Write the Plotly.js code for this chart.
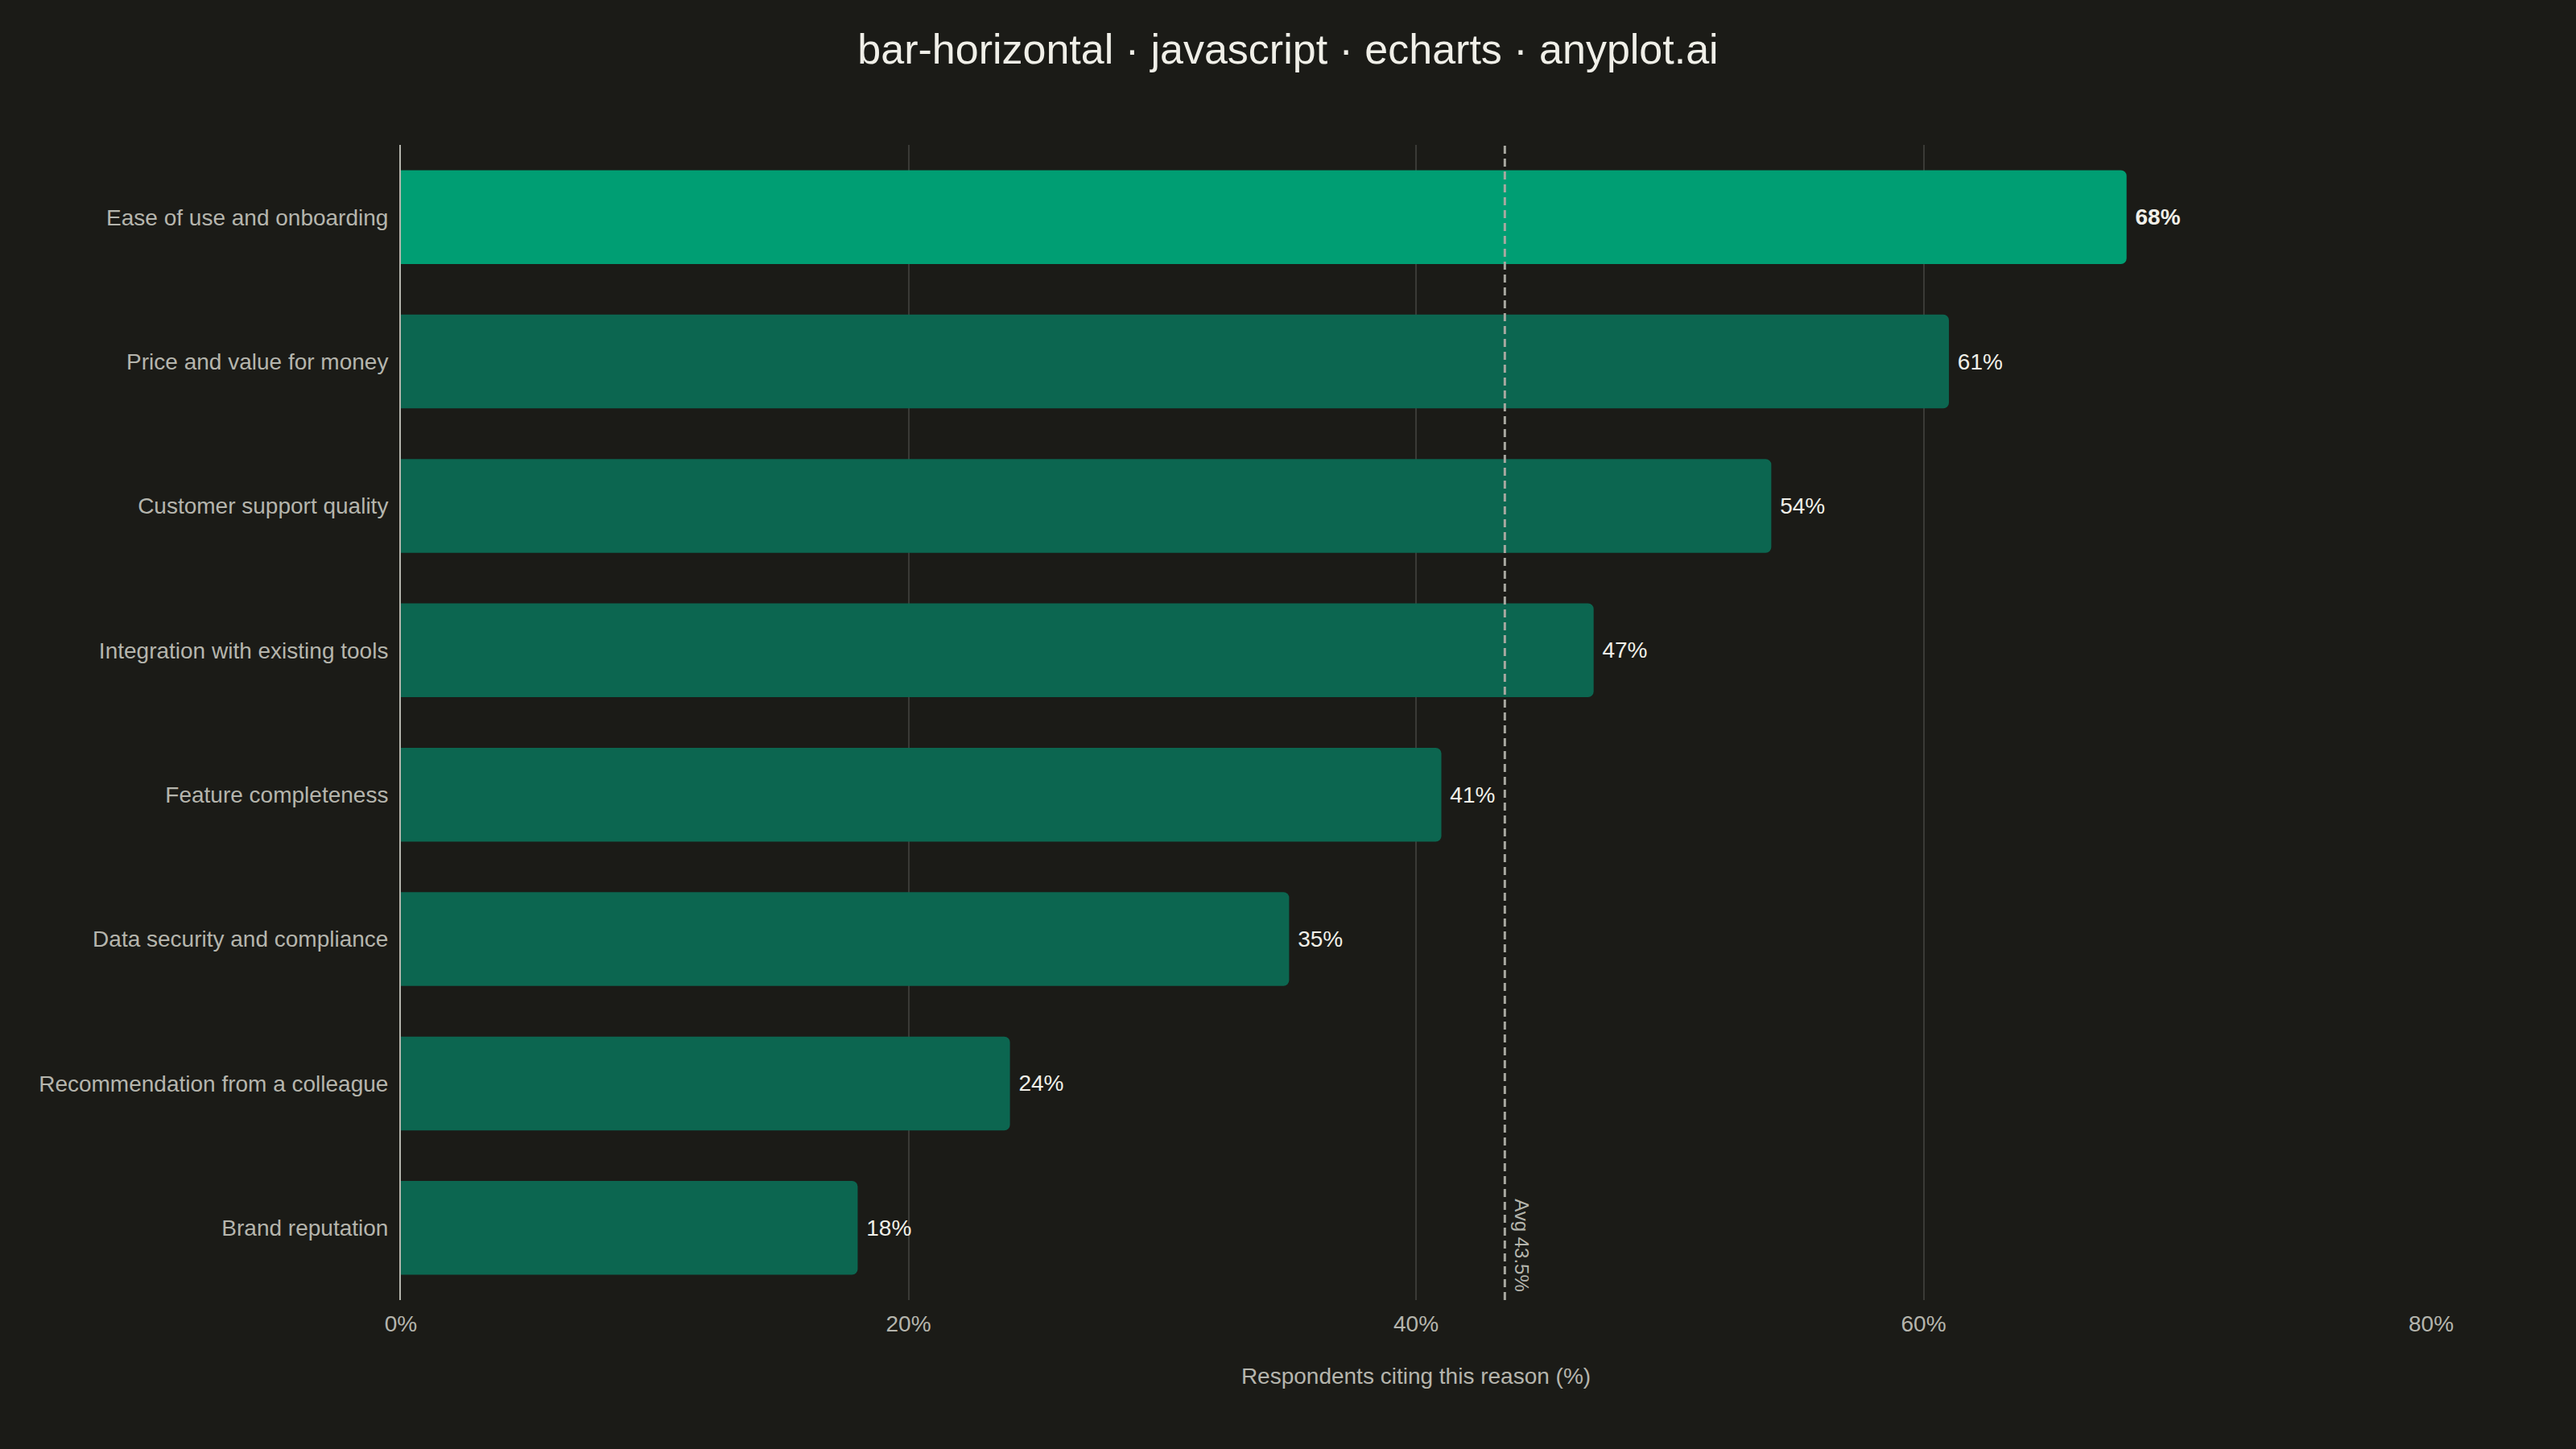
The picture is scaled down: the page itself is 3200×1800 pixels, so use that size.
<!DOCTYPE html>
<html>
<head>
<meta charset="utf-8">
<script src="https://cdn.plot.ly/plotly-3.0.1.min.js"></script>
<style>
	html, body {margin:0; padding:0; background:#1B1B17;}
	#chart {width:3200px; height:1800px;}
</style>
</head>
<body>
<div id="chart"></div>
<script>
// survey data, top to bottom
var categories = [
	'Ease of use and onboarding',
	'Price and value for money',
	'Customer support quality',
	'Integration with existing tools',
	'Feature completeness',
	'Data security and compliance',
	'Recommendation from a colleague',
	'Brand reputation'
];
var values = [68, 61, 54, 47, 41, 35, 24, 18];
var xTicks = [0, 20, 40, 60, 80];
var xTickText = ['0%', '20%', '40%', '60%', '80%'];

function disp_bars(chartname)
{
	var bg = '#1B1B17';
	var soft = '#B5B5AD';
	var light = '#F0EFE8';
	var top = Math.max(...values);
	var avg = values.reduce(function(a, b){ return a + b; }, 0) / values.length;

	// leader gets full colour and a bold label
	var colors = [];
	var labels = [];
	for (var i = 0; i < values.length; i++){
		if (values[i] == top){
			colors.push('#009E73');
			labels.push('\u00a0<b>' + values[i] + '%</b>');
		}else{
			colors.push('#0C6650');
			labels.push('\u00a0' + values[i] + '%');
		}
	};

	var data = [{
		type: 'bar',
		orientation: 'h',
		x: values,
		y: categories,
		marker: {color: colors, cornerradius: 7, line: {width: 0}},
		text: labels,
		textposition: 'outside',
		constraintext: 'none',
		cliponaxis: false,
		textfont: {size: 28, color: light},
		hoverinfo: 'skip'
	}];

	var layout = {
		width: 3200,
		height: 1800,
		paper_bgcolor: bg,
		plot_bgcolor: bg,
		font: {family: 'Liberation Sans, Arial, sans-serif', color: soft},
		margin: {l: 498, r: 180, t: 180, b: 185},
		bargap: 0.35,
		showlegend: false,
		title: {
			text: 'bar-horizontal · javascript · echarts · anyplot.ai',
			font: {size: 52, color: light},
			x: 0.5, xanchor: 'center',
			y: 0.966, yanchor: 'middle'
		},
		xaxis: {
			range: [0, 80],
			tickvals: xTicks,
			ticktext: xTickText,
			tickfont: {size: 28, color: soft},
			showgrid: true,
			gridcolor: '#3A3A36',
			gridwidth: 2,
			zeroline: false,
			showline: false,
			ticks: '',
			ticklabelstandoff: 10,
			title: {
				text: 'Respondents citing this reason (%)',
				font: {size: 28, color: soft},
				standoff: 40
			}
		},
		yaxis: {
			autorange: 'reversed',
			tickfont: {size: 28, color: soft},
			showgrid: false,
			zeroline: false,
			showline: true,
			linecolor: '#B5B5AD',
			linewidth: 2,
			ticks: '',
			ticklabelstandoff: 8
		},
		shapes: [{
			type: 'line',
			xref: 'x', yref: 'paper',
			x0: avg, x1: avg, y0: 0, y1: 1,
			line: {color: '#A8A8A0', width: 3, dash: '10px,6px'}
		}],
		annotations: [{
			text: 'Avg ' + avg.toFixed(1) + '%',
			xref: 'x', yref: 'paper',
			x: avg, y: 0,
			xanchor: 'left', yanchor: 'bottom',
			xshift: 6, yshift: 8,
			textangle: 90,
			showarrow: false,
			font: {size: 24, color: soft}
		}]
	};

	Plotly.newPlot(document.getElementById(chartname), data, layout, {displayModeBar: false, staticPlot: true});
}

disp_bars('chart');
</script>
</body>
</html>
